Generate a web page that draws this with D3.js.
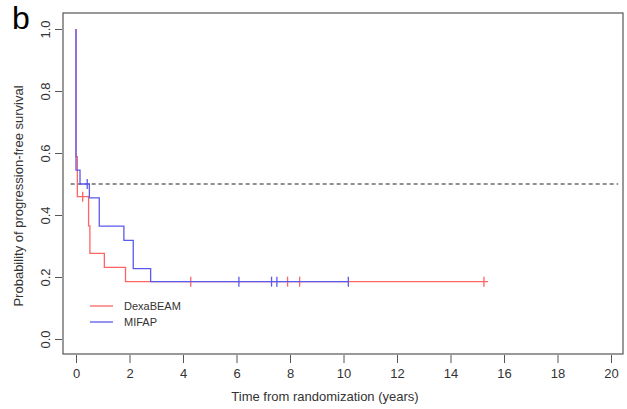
<!DOCTYPE html>
<html>
<head>
<meta charset="utf-8">
<script src="https://cdn.jsdelivr.net/npm/d3@7"></script>
<style>
  body { margin: 0; background: #fff; }
  svg text { font-family: "Liberation Sans", Arial, sans-serif; fill: #333; }
</style>
</head>
<body>
<div id="chart"></div>
<script>
// Kaplan-Meier step data
var dexaTimes = [0, 0, 0.05, 0.47, 0.52, 1.06, 1.85, 15.4];
var dexaSurv  = [1, 0.588, 0.459, 0.365, 0.276, 0.231, 0.185, 0.185];
var dexaCensorTimes = [0.25, 4.29, 7.91, 8.36, 15.25];
var dexaCensorSurv  = [0.459, 0.185, 0.185, 0.185, 0.185];

var mifapTimes = [0, 0, 0.15, 0.5, 0.87, 1.79, 2.14, 2.79, 10.18];
var mifapSurv  = [1, 0.545, 0.5, 0.455, 0.364, 0.318, 0.227, 0.185, 0.185];
var mifapCensorTimes = [0.42, 6.09, 7.31, 7.51, 10.18];
var mifapCensorSurv  = [0.5, 0.185, 0.185, 0.185, 0.185];

var xTicks = [0, 2, 4, 6, 8, 10, 12, 14, 16, 18, 20];
var yTicks = [0, 0.2, 0.4, 0.6, 0.8, 1.0];
var seriesNames = ["DexaBEAM", "MIFAP"];
var seriesColors = ["#ff6464", "#5a5af0"];

var width = 627, height = 409;

var svg = d3.select("#chart").append("svg")
    .attr("width", width)
    .attr("height", height);

var x = d3.scaleLinear().domain([0, 20]).range([76, 611]);
var y = d3.scaleLinear().domain([0, 1]).range([339, 29]);

// plot box
svg.append("rect")
    .attr("x", 63).attr("y", 13)
    .attr("width", 560).attr("height", 341)
    .attr("fill", "none")
    .attr("stroke", "#555")
    .attr("stroke-width", 1.2);

// x axis
var xAxis = svg.append("g")
    .attr("transform", "translate(0,355)")
    .call(d3.axisBottom(x).tickValues(xTicks).tickSize(8).tickSizeOuter(0).tickPadding(6));
xAxis.select(".domain").remove();
xAxis.selectAll("line").attr("stroke", "#555");
xAxis.selectAll("text").style("font-size", "13px").attr("fill", "#333");

// y axis, labels rotated like base R
var yAxis = svg.append("g")
    .attr("transform", "translate(62,0)")
    .call(d3.axisLeft(y).tickValues(yTicks).tickSize(7).tickSizeOuter(0).tickFormat(d3.format(".1f")));
yAxis.select(".domain").remove();
yAxis.selectAll("line").attr("stroke", "#555");
yAxis.selectAll("text")
    .attr("x", 0).attr("y", -12.5).attr("dy", 0)
    .attr("text-anchor", "middle")
    .attr("transform", "rotate(-90)")
    .style("font-size", "13px")
    .attr("fill", "#333");

// axis titles
svg.append("text")
    .attr("x", 325).attr("y", 401)
    .attr("text-anchor", "middle")
    .style("font-size", "13px")
    .text("Time from randomization (years)");

svg.append("text")
    .attr("transform", "translate(22.5,196) rotate(-90)")
    .attr("text-anchor", "middle")
    .style("font-size", "13px")
    .text("Probability of progression-free survival");

// panel letter
svg.append("text")
    .attr("x", 12).attr("y", 29)
    .style("font-size", "32px")
    .style("fill", "#000")
    .text("b");

// median reference line
svg.append("line")
    .attr("x1", x(-0.2)).attr("x2", x(20.27))
    .attr("y1", y(0.5)).attr("y2", y(0.5))
    .attr("stroke", "#222")
    .attr("stroke-width", 1.1)
    .attr("stroke-dasharray", "4,3");

var step = d3.line()
    .x(function(d) { return x(d[0]); })
    .y(function(d) { return y(d[1]); })
    .curve(d3.curveStepAfter);

function drawCurve(times, surv, cTimes, cSurv, color) {
    var pts = times.map(function(t, i) { return [t, surv[i]]; });
    svg.append("path")
        .datum(pts)
        .attr("d", step)
        .attr("fill", "none")
        .attr("stroke", color)
        .attr("stroke-width", 1.3);
    var cens = cTimes.map(function(t, i) { return [t, cSurv[i]]; });
    svg.selectAll(null)
        .data(cens)
        .enter()
        .append("line")
        .attr("x1", function(d) { return x(d[0]); })
        .attr("x2", function(d) { return x(d[0]); })
        .attr("y1", function(d) { return y(d[1]) - 5; })
        .attr("y2", function(d) { return y(d[1]) + 5; })
        .attr("stroke", color)
        .attr("stroke-width", 1.3);
}

drawCurve(dexaTimes, dexaSurv, dexaCensorTimes, dexaCensorSurv, seriesColors[0]);
drawCurve(mifapTimes, mifapSurv, mifapCensorTimes, mifapCensorSurv, seriesColors[1]);

// legend
var legend = svg.append("g").attr("transform", "translate(90,306)");
seriesNames.forEach(function(name, i) {
    var g = legend.append("g").attr("transform", "translate(0," + (i * 16) + ")");
    g.append("line")
        .attr("x1", 0).attr("x2", 23)
        .attr("y1", 0).attr("y2", 0)
        .attr("stroke", seriesColors[i])
        .attr("stroke-width", 1.3);
    g.append("text")
        .attr("x", 34).attr("y", 0)
        .attr("dy", "0.36em")
        .style("font-size", "11px")
        .text(name);
});
</script>
</body>
</html>
